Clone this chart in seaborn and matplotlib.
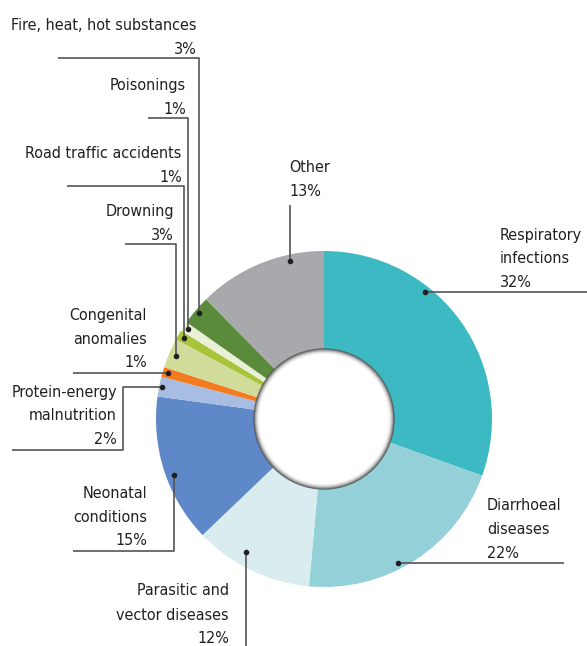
import os
import matplotlib
matplotlib.use("Agg")
import matplotlib.pyplot as plt
from matplotlib import font_manager as fm
from matplotlib.patches import Circle
from matplotlib.textpath import TextPath
import numpy as np
import seaborn as sns

# ---- data -------------------------------------------------------------
categories = [
    "Respiratory infections", "Diarrhoeal diseases", "Parasitic and vector diseases",
    "Neonatal conditions", "Protein-energy malnutrition", "Congenital anomalies",
    "Drowning", "Road traffic accidents", "Poisonings",
    "Fire, heat, hot substances", "Other",
]
shares = [32, 22, 12, 15, 2, 1, 3, 1, 1, 3, 13]
label_lines = [
    ["Respiratory", "infections"], ["Diarrhoeal", "diseases"],
    ["Parasitic and", "vector diseases"], ["Neonatal", "conditions"],
    ["Protein-energy", "malnutrition"], ["Congenital", "anomalies"],
    ["Drowning"], ["Road traffic accidents"], ["Poisonings"],
    ["Fire, heat, hot substances"], ["Other"],
]
colors = [
    "#3db9c3", "#94d0d7", "#d9edf0", "#5f88c8", "#a7bde2", "#f47a20",
    "#d2dc9a", "#a7c43b", "#e9f0d6", "#5a8b3b", "#a7a9ac",
]

# ---- style ------------------------------------------------------------
sns.set_theme(style="white")
TEXT = "#231f20"
LINE = "#555555"


def pick_font():
    wanted = [
        "liberationsansnarrow-regular", "dejavusanscondensed.",
        "robotocondensed-regular", "notosans-condensed.", "notosans-condensedregular",
        "opensans_condensed-regular", "opensanscondensed-regular",
    ]
    files = [e.fname for e in fm.fontManager.ttflist]
    try:
        files += list(fm.findSystemFonts())
    except Exception:
        pass
    for w in wanted:
        for f in files:
            if os.path.basename(f).lower().startswith(w):
                return fm.FontProperties(fname=f)
    return fm.FontProperties(family=["Liberation Sans", "DejaVu Sans"])


font = pick_font()
# size the type so the longest single line spans about 184 px
probe = TextPath((0, 0), "Fire, heat, hot substances", size=10, prop=font)
probe_px = probe.get_extents().width * 100 / 72
fsize = float(np.clip(10 * 184 / probe_px, 11, 15.5))
font.set_size(fsize)

W, H = 587, 646
fig = plt.figure(figsize=(W / 100, H / 100), dpi=100)
ax = fig.add_axes([0, 0, 1, 1])

cx, cy, R, r_in = 324, 419, 168, 70
wedges, _ = ax.pie(
    shares, colors=colors, startangle=-90, counterclock=True,
    radius=R, center=(cx, cy),
    wedgeprops=dict(width=R - r_in, linewidth=0),
)
ax.set_xlim(0, W)
ax.set_ylim(H, 0)
ax.set_aspect("equal")
ax.axis("off")

# inner hole with a soft grey rim
ax.add_patch(Circle((cx, cy), r_in, facecolor="white", edgecolor="none", zorder=3))
for k, a in enumerate([0.7, 0.45, 0.28, 0.16, 0.08, 0.04]):
    ax.add_patch(Circle((cx, cy), r_in - 0.9 * k, fill=False,
                        edgecolor="#3a3a3a", alpha=a, lw=1.0, zorder=4))


def anchor(i, frac, rad):
    w = wedges[i]
    th = np.deg2rad(w.theta1 + frac * (w.theta2 - w.theta1))
    return cx + rad * np.cos(th), cy + rad * np.sin(th)


def lead(pts):
    xs, ys = zip(*pts)
    ax.plot(xs, ys, color=LINE, lw=1.2, solid_capstyle="butt", zorder=5)
    ax.plot([pts[0][0]], [pts[0][1]], "o", color=TEXT, ms=3, zorder=6)


def block(i, x, baselines, ha):
    lines = label_lines[i] + [f"{shares[i]}%"]
    for txt, yb in zip(lines, baselines):
        ax.text(x, yb, txt, ha=ha, va="baseline", color=TEXT,
                fontproperties=font, zorder=7)


# Respiratory infections
x0, y0 = anchor(0, 0.35, 162)
lead([(x0, y0), (W, y0)])
block(0, 500, [y0 - 52, y0 - 29, y0 - 5], "left")

# Diarrhoeal diseases
x0, y0 = anchor(1, 0.57, 162)
lead([(x0, y0), (564, y0)])
block(1, 487, [y0 - 53, y0 - 29, y0 - 5], "left")

# Parasitic and vector diseases
x0, y0 = anchor(2, 0.61, 154)
lead([(x0, y0), (x0, H)])
block(2, 229, [595, 620, 643], "right")

# Neonatal conditions
x0, y0 = anchor(3, 0.45, 160)
lead([(x0, y0), (x0, 551), (73, 551)])
block(3, 147, [498, 522, 545], "right")

# Protein-energy malnutrition
x0, y0 = anchor(4, 0.5, 165)
lead([(x0, y0), (123, y0), (123, 450), (12, 450)])
block(4, 117, [397, 420, 444], "right")

# Congenital anomalies
x0, y0 = anchor(5, 0.5, 163)
lead([(x0, y0), (73, y0)])
block(5, 147, [y0 - 53, y0 - 29.5, y0 - 6], "right")

# Drowning, road traffic, poisonings, fire: stacked elbows
for i, rad, top, left in [(6, 161, 244, 125), (7, 162, 186, 67),
                          (8, 163, 118, 148), (9, 164, 58, 58)]:
    x0, y0 = anchor(i, 0.5, rad)
    lead([(x0, y0), (x0, top), (left, top)])
    block(i, x0 - 2, [top - 28, top - 4], "right")

# Other
x0, y0 = anchor(10, 0.73, 162)
lead([(x0, y0), (x0, 205)])
block(10, x0 - 1, [172, 196], "left")

fig.savefig("out.png", dpi=100, facecolor="white")
